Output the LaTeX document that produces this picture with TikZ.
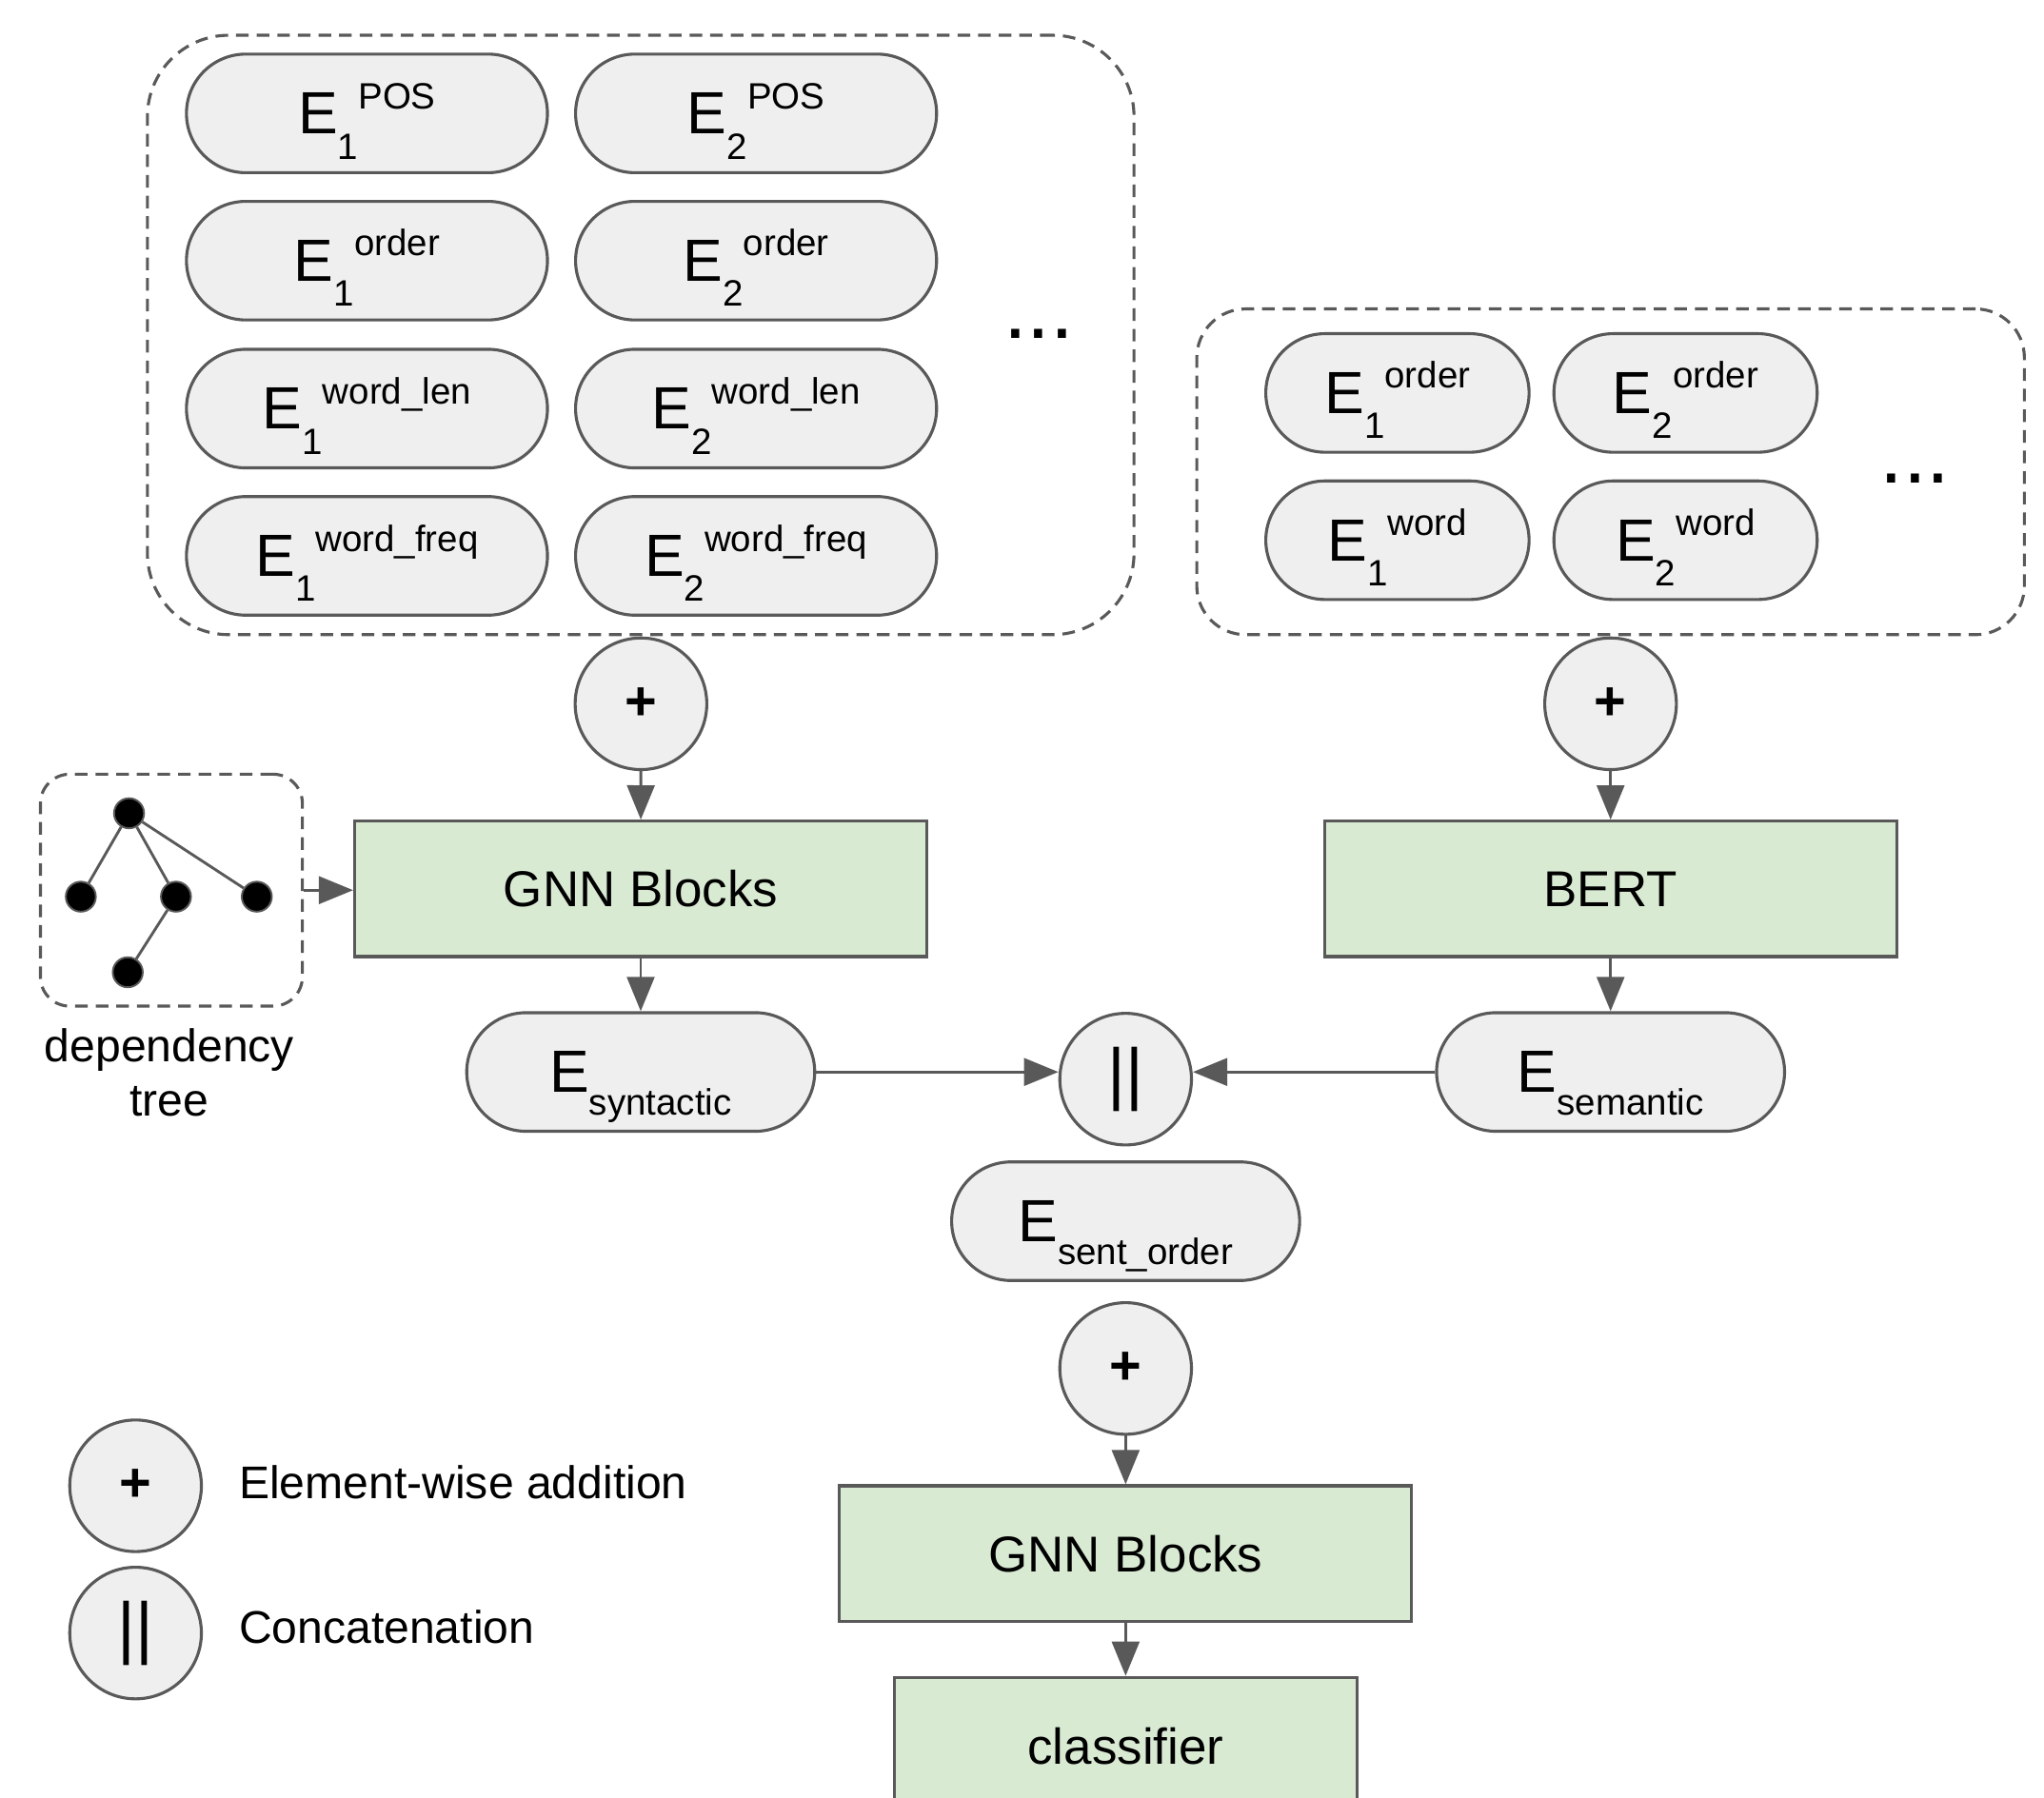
\documentclass[tikz,border=0pt]{standalone}
\usepackage{fontspec}
\setmainfont{Liberation Sans}
\usetikzlibrary{arrows.meta}
\definecolor{ln}{HTML}{595959}
\definecolor{pillfill}{HTML}{EFEFEF}
\definecolor{grn}{HTML}{D9EAD3}
\newcommand{\Emb}[2]{{\fontsize{26}{26}\selectfont E}\smash{\raisebox{-11pt}{\fontsize{16}{16}\selectfont #1}\raisebox{11pt}{\fontsize{16}{16}\selectfont #2}}}
\newcommand{\Esb}[1]{{\fontsize{26}{26}\selectfont E}\smash{\raisebox{-10pt}{\fontsize{16}{16}\selectfont #1}}}
\tikzset{
  pill/.style={draw=ln, fill=pillfill, line width=1.3pt, rounded corners=0.91cm, minimum height=1.82cm, inner sep=0pt},
  bigpill/.style={pill, minimum width=5.54cm},
  smallpill/.style={pill, minimum width=4.04cm},
  outpill/.style={pill, minimum width=5.34cm},
  opc/.style={circle, draw=ln, fill=pillfill, line width=1.3pt, minimum size=2.02cm, inner sep=0pt},
  blk/.style={draw=ln, fill=grn, line width=1.3pt, inner sep=0pt, font=\fontsize{22}{22}\selectfont},
  grp/.style={draw=ln, line width=1.3pt, dash pattern=on 5.5pt off 3.5pt, inner sep=0pt},
  arr/.style={draw=ln, line width=1.2pt, -{Triangle[width=12pt,length=15pt]}},
  tdot/.style={circle, fill=black, draw=ln, line width=0.8pt, minimum size=0.46cm, inner sep=0pt},
  tedge/.style={draw=ln, line width=1.2pt},
  lbl/.style={inner sep=0pt, font=\fontsize{20}{24}\selectfont},
  plustxt/.style={font=\fontsize{24}{24}\selectfont\bfseries},
  bartxt/.style={font=\fontsize{30}{30}\selectfont},
  dotstxt/.style={inner sep=0pt, font=\fontsize{37}{37}\selectfont},
}
\begin{document}
\begin{tikzpicture}[x=0.02cm, y=-0.02cm]
\clip (0,0) rectangle (1568,1379);
% groups
\node[grp, rounded corners=1.25cm, minimum width=15.14cm, minimum height=9.2cm] (g1) at (491.5,257) {};
\node[grp, rounded corners=0.75cm, minimum width=12.7cm, minimum height=5cm] (g2) at (1235.5,362) {};
% left embeddings
\node[bigpill] (p1a) at (281.5,87) {\Emb{1}{POS}};
\node[bigpill] (p2a) at (580,87) {\Emb{2}{POS}};
\node[bigpill] (p1b) at (281.5,200) {\Emb{1}{order}};
\node[bigpill] (p2b) at (580,200) {\Emb{2}{order}};
\node[bigpill] (p1c) at (281.5,313.5) {\Emb{1}{word\_len}};
\node[bigpill] (p2c) at (580,313.5) {\Emb{2}{word\_len}};
\node[bigpill] (p1d) at (281.5,426.5) {\Emb{1}{word\_freq}};
\node[bigpill] (p2d) at (580,426.5) {\Emb{2}{word\_freq}};
\node[dotstxt] (dots1) at (797,256) {...};
% right embeddings
\node[smallpill] (q1a) at (1072,301.5) {\Emb{1}{order}};
\node[smallpill] (q2a) at (1293,301.5) {\Emb{2}{order}};
\node[smallpill] (q1b) at (1072,414.5) {\Emb{1}{word}};
\node[smallpill] (q2b) at (1293,414.5) {\Emb{2}{word}};
\node[dotstxt] (dots2) at (1469,367) {...};
% operators
\node[opc, plustxt] (plus1) at (491.7,540) {+};
\node[opc, plustxt] (plus2) at (1235.5,540) {+};
\node[opc, bartxt] (cat) at (863.5,828) {||};
\node[opc, plustxt] (plus3) at (863.5,1050) {+};
% blocks
\node[blk, minimum width=8.78cm, minimum height=2.08cm] (gnn1) at (491.5,682) {GNN Blocks};
\node[blk, minimum width=8.78cm, minimum height=2.08cm] (bert) at (1235.5,682) {BERT};
\node[blk, minimum width=8.78cm, minimum height=2.08cm] (gnn2) at (863.5,1192) {GNN Blocks};
\node[blk, minimum width=7.1cm, minimum height=2.12cm] (cls) at (863.5,1340) {classifier};
% outputs
\node[outpill] (esyn) at (491.5,822.5) {\Esb{syntactic}};
\node[outpill] (esem) at (1235.5,822.5) {\Esb{semantic}};
\node[outpill] (esent) at (863.5,937) {\Esb{sent\_order}};
% dependency tree
\node[grp, rounded corners=0.45cm, minimum width=4.02cm, minimum height=3.56cm] (tree) at (131.5,683) {};
\node[tdot] (t0) at (99,624) {};
\node[tdot] (t1) at (62,688) {};
\node[tdot] (t2) at (135,688) {};
\node[tdot] (t3) at (197,688) {};
\node[tdot] (t4) at (98,746) {};
\draw[tedge] (t0) -- (t1);
\draw[tedge] (t0) -- (t2);
\draw[tedge] (t0) -- (t3);
\draw[tedge] (t2) -- (t4);
\node[lbl, align=center] (treelbl) at (130,823) {dependency\\tree};
% arrows
\draw[arr] (plus1) -- (gnn1);
\draw[arr] (gnn1) -- (esyn);
\draw[arr] (plus2) -- (bert);
\draw[arr] (bert) -- (esem);
\draw[arr] (tree.east) -- (gnn1.west |- tree.east);
\draw[arr] (esyn.east) -- (esyn.east -| cat.west);
\draw[arr] (esem.west) -- (esem.west -| cat.east);
\draw[arr] (plus3) -- (gnn2);
\draw[arr] (gnn2) -- (cls);
% legend
\node[opc, plustxt] (lplus) at (104,1140) {+};
\node[opc, bartxt] (lcat) at (104,1253) {||};
\node[lbl, anchor=base west] (lplustxt) at (183,1150) {Element-wise addition};
\node[lbl, anchor=base west] (lcattxt) at (183,1261) {Concatenation};
\end{tikzpicture}
\end{document}
